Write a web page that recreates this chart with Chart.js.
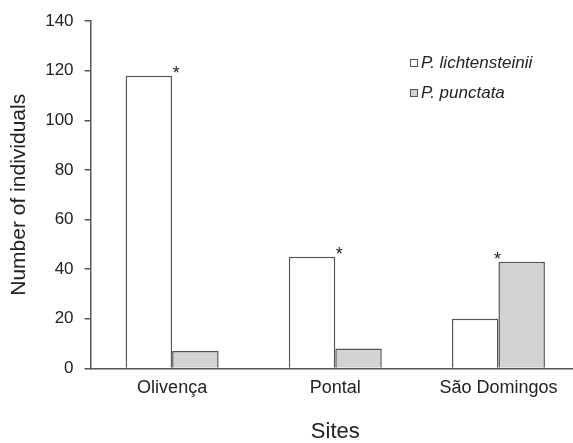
<!DOCTYPE html>
<html>
<head>
<meta charset="utf-8">
<script src="https://cdn.jsdelivr.net/npm/chart.js@4/dist/chart.umd.min.js"></script>
<style>
  html, body { margin: 0; padding: 0; background: #fff; overflow: hidden; }
  #wrap { width: 582px; height: 443px; }
</style>
</head>
<body>
<div id="wrap"><canvas id="sites"></canvas></div>
<script>
const sites = ['Olivença', 'Pontal', 'São Domingos'];
const species = ['P. lichtensteinii', 'P. punctata'];
const lichtensteinii = [118, 45, 20];
const punctata = [7, 8, 43];
// which species got the asterisk at each site (0 = lichtensteinii, 1 = punctata)
const starOn = [0, 0, 1];
const yTicks = [0, 20, 40, 60, 80, 100, 120, 140];

const ink = '#555555';
const textCol = '#222222';
const fontFam = '"Liberation Sans", Arial, sans-serif';

// asterisks + legend drawn on top of the bars
const extras = {
  id: 'extras',
  afterDatasetsDraw(chart) {
    const ctx = chart.ctx;
    ctx.save();
    ctx.fillStyle = textCol;
    ctx.font = '18px ' + fontFam;
    ctx.textAlign = 'center';
    ctx.textBaseline = 'alphabetic';
    starOn.forEach((d, i) => {
      const bar = chart.getDatasetMeta(d).data[i];
      const half = bar.width / 2;
      const x = d === 0 ? bar.x + half + 4 : bar.x - half - 1;
      ctx.fillText('*', x, bar.y + 3);
    });

    // legend
    const lx = 414, ly = [63, 93];
    ctx.font = 'italic 17px ' + fontFam;
    ctx.textAlign = 'left';
    ctx.textBaseline = 'middle';
    chart.data.datasets.forEach((ds, k) => {
      ctx.fillStyle = ds.backgroundColor;
      ctx.strokeStyle = ink;
      ctx.lineWidth = 1;
      ctx.fillRect(lx - 3.5, ly[k] - 3.5, 7, 7);
      ctx.strokeRect(lx - 3.5, ly[k] - 3.5, 7, 7);
      ctx.fillStyle = textCol;
      ctx.fillText(ds.label, lx + 7, ly[k]);
    });
    ctx.restore();
  }
};

new Chart(document.getElementById('sites'), {
  type: 'bar',
  data: {
    labels: sites,
    datasets: [
      {
        label: species[0],
        data: lichtensteinii,
        backgroundColor: '#ffffff',
        borderColor: ink,
        borderWidth: 1.5
      },
      {
        label: species[1],
        data: punctata,
        backgroundColor: '#d3d3d3',
        borderColor: ink,
        borderWidth: 1.5
      }
    ]
  },
  options: {
    responsive: true,
    maintainAspectRatio: false,
    animation: false,
    layout: { padding: { top: 20, right: 2, left: 7, bottom: 0 } },
    datasets: {
      bar: { barPercentage: 1, categoryPercentage: 0.57 }
    },
    plugins: {
      legend: { display: false },
      tooltip: { enabled: false }
    },
    scales: {
      x: {
        grid: { display: false, drawTicks: false },
        border: { color: ink, width: 1.5 },
        ticks: { color: textCol, font: { family: fontFam, size: 18 }, padding: 9 },
        title: {
          display: true,
          text: 'Sites',
          color: textCol,
          font: { family: fontFam, size: 22, lineHeight: 1 },
          padding: { top: 13, bottom: 0 }
        }
      },
      y: {
        min: 0,
        max: 140,
        afterBuildTicks(axis) {
          axis.ticks = yTicks.map(v => ({ value: v }));
        },
        grid: { drawOnChartArea: false, drawTicks: true, tickLength: 6, color: ink, lineWidth: 1.5 },
        border: { color: ink, width: 1.5 },
        ticks: { color: textCol, font: { family: fontFam, size: 17 }, padding: 11 },
        title: {
          display: true,
          text: 'Number of individuals',
          color: textCol,
          font: { family: fontFam, size: 21 },
          padding: { top: 0, bottom: 2 }
        }
      }
    }
  },
  plugins: [extras]
});
</script>
</body>
</html>
